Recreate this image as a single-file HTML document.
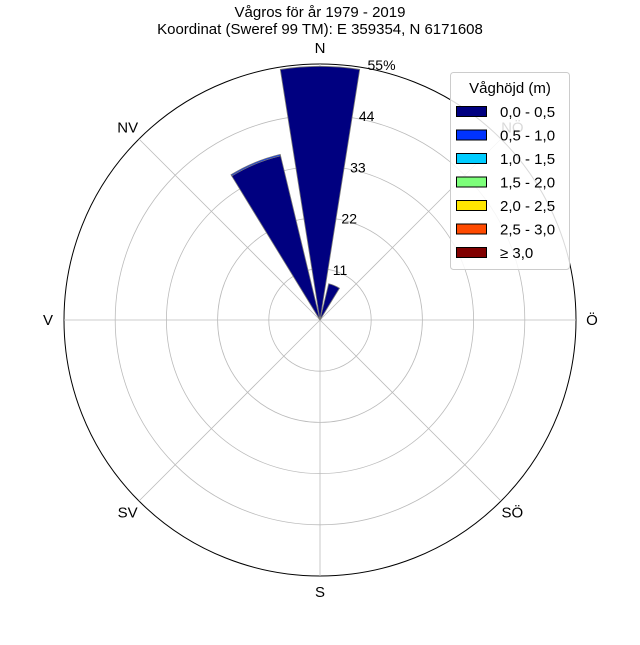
<!DOCTYPE html>
<html><head><meta charset="utf-8"><style>
body{margin:0;background:#fff}
svg text{font-family:"Liberation Sans",sans-serif;fill:#000}
</style></head><body>
<svg id="chart" width="640" height="640" viewBox="0 0 640 640">
<text x="320" y="17" font-size="15" text-anchor="middle">Vågros för år 1979 - 2019</text>
<text x="320" y="34" font-size="15" text-anchor="middle">Koordinat (Sweref 99 TM): E 359354, N 6171608</text>
<g id="grid"></g><g id="bars"></g><g id="labels"></g>
<g id="legend"></g>
</svg>
<script>
const directions=["N","NNÖ","NÖ","ÖNÖ","Ö","ÖSÖ","SÖ","SSÖ","S","SSV","SV","VSV","V","VNV","NV","NNV"];
const binLabels=["0,0 - 0,5","0,5 - 1,0","1,0 - 1,5","1,5 - 2,0","2,0 - 2,5","2,5 - 3,0","≥ 3,0"];
const binColors=["#000080","#0033ff","#00ccff","#7dff7a","#ffe600","#ff4a00","#800000"];
const series0=[54.5,8,0,0,0,0,0,0,0,0,0,0,0,0,0,36.3];
const series1=[0,0,0,0,0,0,0,0,0,0,0,0,0,0,0,0.3];
const radialTicks=[11,22,33,44,55];
const compassLabels=["N","NÖ","Ö","SÖ","S","SV","V","NV"];
const cx=320,cy=320,R=256,maxV=55;
const NS="http://www.w3.org/2000/svg";
function r(v){return v/maxV*R;}
function pt(rad,deg){const a=deg*Math.PI/180;return [cx+rad*Math.sin(a),cy-rad*Math.cos(a)];}
function mk(tag,attrs,parent){const e=document.createElementNS(NS,tag);for(const k in attrs)e.setAttribute(k,attrs[k]);parent.appendChild(e);return e;}
const grid=document.getElementById('grid');
radialTicks.forEach((t,i)=>{
 const c=mk('circle',{cx:cx,cy:cy,r:r(t),fill:'none',stroke:i==radialTicks.length-1?'#000':'#bbb','stroke-width':i==radialTicks.length-1?1:0.8},grid);
 
 
});
for(let i=0;i<8;i++){const [x,y]=pt(R,i*45);
 const l=mk('line',{x1:cx,y1:cy,x2:x,y2:y,stroke:'#bbb','stroke-width':0.8},grid);
 
 
}
const bars=document.getElementById('bars');
function wedge(r0,r1,ang,color){
 const w=9,[x1,y1]=pt(r0,ang-w),[x2,y2]=pt(r1,ang-w),[x3,y3]=pt(r1,ang+w),[x4,y4]=pt(r0,ang+w);
 return mk('path',{d:`M${x1},${y1}L${x2},${y2}A${r1},${r1} 0 0 1 ${x3},${y3}L${x4},${y4}A${r0},${r0} 0 0 0 ${x1},${y1}Z`,fill:color,stroke:'#777','stroke-width':0.8},bars);
}
directions.forEach((d,i)=>{
 const vals=[series0[i],series1[i]];let acc=0;
 vals.forEach((v,j)=>{if(v<=0)return;
  const p=wedge(r(acc),r(acc+v),i*22.5,binColors[j]);
  
  
  acc+=v;});
});
const labels=document.getElementById('labels');
radialTicks.forEach((t,i)=>{
 const rr=r(t);
 const tx=mk('text',{x:cx+rr*0.17+4,y:cy-rr+6,'font-size':14},labels);
 tx.textContent=t+(i==radialTicks.length-1?'%':'');
 
 
});
compassLabels.forEach((c,i)=>{
 const [x,y]=pt(R+16,i*45);
 const tx=mk('text',{x:x,y:y+5,'font-size':15,'text-anchor':'middle'},labels);
 tx.textContent=c;
 
 
});
const lg=document.getElementById('legend');
const box=mk('rect',{x:450.5,y:72.5,width:119,height:197,rx:3,fill:'#fff','fill-opacity':0.85,stroke:'#ccc'},lg);


const lt=mk('text',{x:510,y:93,'font-size':15,'text-anchor':'middle'},lg);
lt.textContent='Våghöjd (m)';


binLabels.forEach((b,i)=>{
 const y=106+i*23.5;
 const g=mk('g',{},lg);
 
 
 mk('rect',{x:456.5,y:y+0.5,width:30,height:10,fill:binColors[i],stroke:'#000'},g);
 const t=mk('text',{x:500,y:y+11,'font-size':15},g);
 t.textContent=b;
});
</script>
</body></html>
